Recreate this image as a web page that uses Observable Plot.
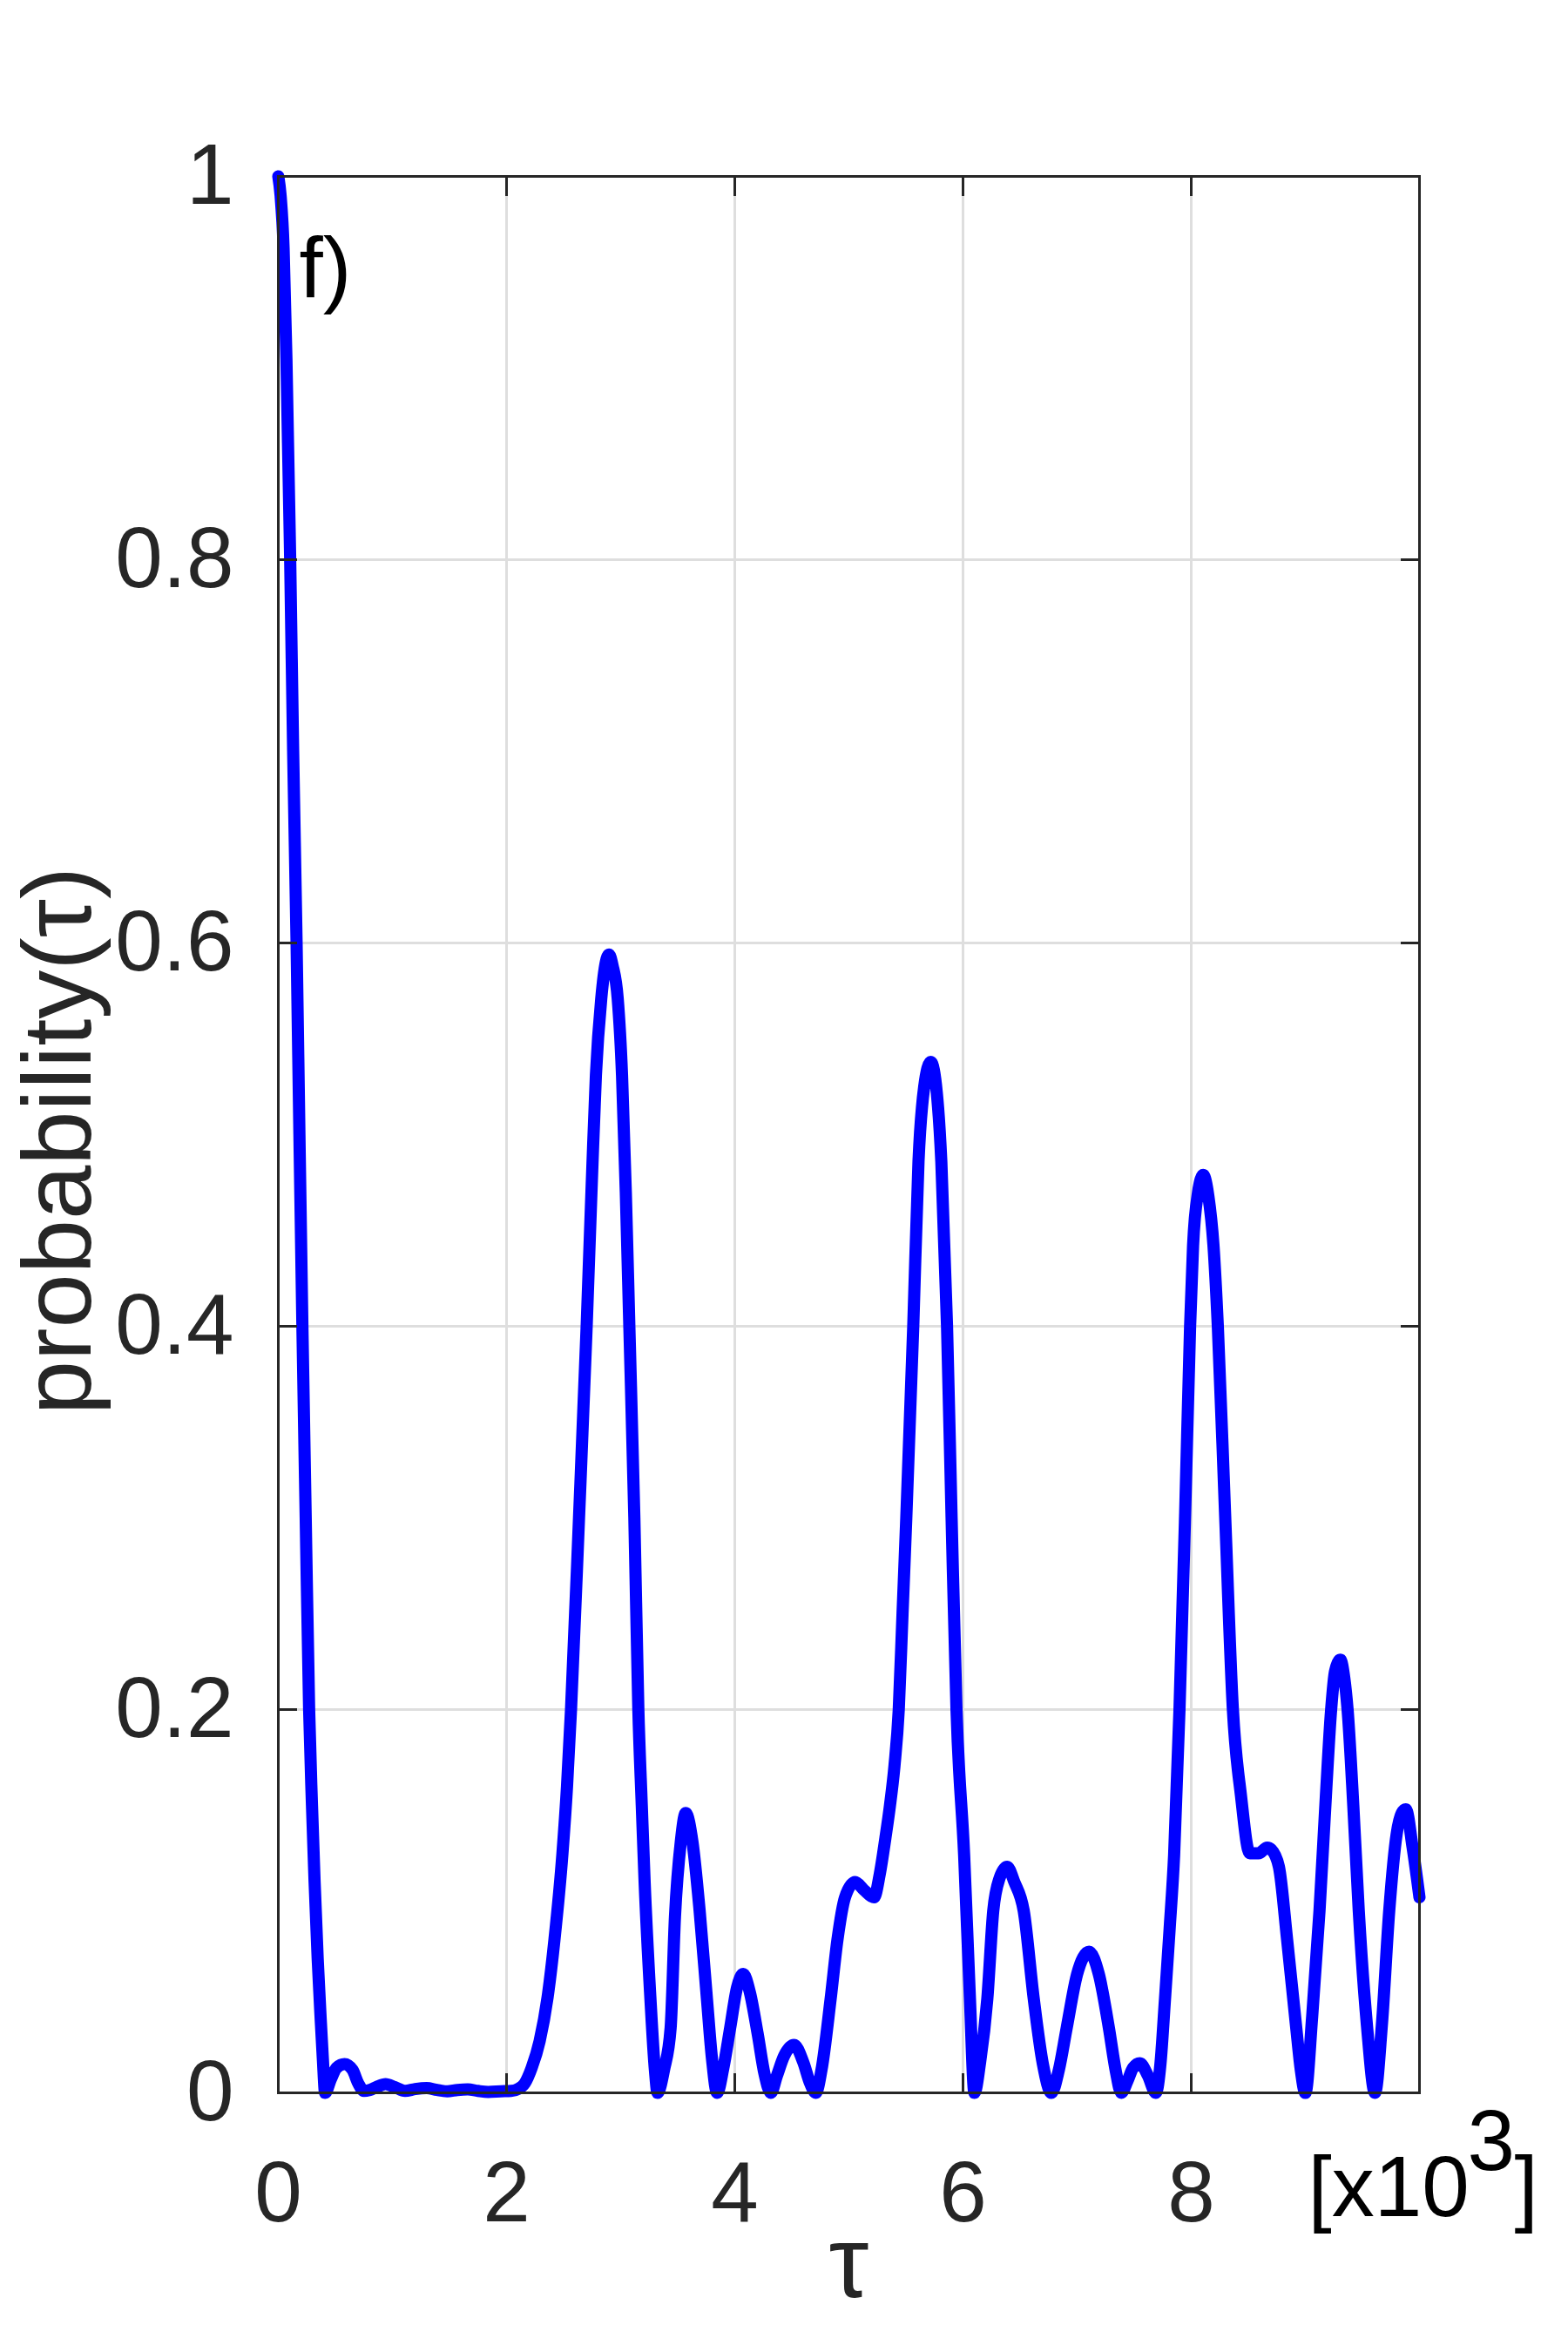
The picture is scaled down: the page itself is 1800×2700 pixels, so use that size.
<!DOCTYPE html>
<html>
<head>
<meta charset="utf-8">
<script src="https://cdn.jsdelivr.net/npm/d3@7"></script>
<script src="https://cdn.jsdelivr.net/npm/@observablehq/plot@0.6"></script>
<style>
  html, body { margin: 0; padding: 0; background: #ffffff; }
  #chart svg { display: block; }
</style>
</head>
<body>
<div id="chart"></div>
<script>
// τ values (in units of 10^3)
const tau = [
  0, 0.02, 0.046, 0.071, 0.104, 0.13, 0.16, 0.185, 0.211, 0.24, 0.27, 0.295, 0.318, 0.345, 0.37, 0.39, 0.41,
  0.46, 0.51, 0.58, 0.65, 0.70, 0.75, 0.80, 0.86, 0.94, 1.02, 1.11, 1.20, 1.30, 1.39, 1.48, 1.57, 1.66, 1.75,
  1.84, 1.95, 2.04, 2.10, 2.16, 2.22, 2.29, 2.36, 2.42, 2.49, 2.53, 2.565, 2.635, 2.702, 2.75, 2.783, 2.83,
  2.87, 2.898, 2.93, 2.974, 3.012, 3.045, 3.076, 3.12, 3.155, 3.185, 3.21, 3.26, 3.30, 3.323,
  3.38, 3.438, 3.476, 3.527, 3.57, 3.629, 3.692, 3.756, 3.80, 3.845,
  3.90, 3.96, 4.02, 4.074, 4.13, 4.20, 4.26, 4.316,
  4.37, 4.43, 4.52, 4.60, 4.66, 4.71,
  4.76, 4.84, 4.90, 4.966, 5.055, 5.13, 5.22, 5.27, 5.32, 5.36, 5.40, 5.437, 5.47, 5.503, 5.564, 5.61,
  5.66, 5.717, 5.77, 5.81, 5.86, 5.90, 5.943, 6.01, 6.06, 6.10,
  6.15, 6.213, 6.265, 6.32, 6.387, 6.45, 6.532, 6.62, 6.70, 6.775,
  6.84, 6.909, 7.00, 7.105, 7.19, 7.278, 7.34, 7.387,
  7.44, 7.49, 7.55, 7.62, 7.69,
  7.73, 7.77, 7.81, 7.85, 7.897, 7.947, 7.99, 8.016, 8.06, 8.105, 8.15, 8.195, 8.233, 8.296, 8.365,
  8.436, 8.513, 8.59, 8.666, 8.70, 8.768, 8.84, 8.92, 8.96, 9.00,
  9.06, 9.124, 9.18, 9.226, 9.26, 9.307, 9.34, 9.37, 9.42, 9.468, 9.54, 9.61,
  9.67, 9.735, 9.80, 9.845, 9.88, 9.94, 10.0
];
// probability(τ)
const prob = [
  1.0, 0.99, 0.963, 0.905, 0.80, 0.70, 0.60, 0.50, 0.40, 0.30, 0.20, 0.15, 0.11, 0.07, 0.04, 0.018, 0.0,
  0.007, 0.013, 0.015, 0.012, 0.005, 0.001, 0.0015, 0.003, 0.0045, 0.003, 0.001, 0.002, 0.0025, 0.0015, 0.0008, 0.0015, 0.0018, 0.001,
  0.0005, 0.0008, 0.001, 0.002, 0.005, 0.013, 0.027, 0.050, 0.080, 0.125, 0.16, 0.20, 0.30, 0.40, 0.48, 0.531, 0.571,
  0.590, 0.594, 0.588, 0.571, 0.531, 0.47, 0.40, 0.30, 0.20, 0.15, 0.11, 0.05, 0.012, 0.0,
  0.012, 0.034, 0.092, 0.131, 0.146, 0.131, 0.095, 0.049, 0.018, 0.0,
  0.013, 0.034, 0.055, 0.062, 0.053, 0.031, 0.010, 0.0,
  0.009, 0.019, 0.025, 0.016, 0.005, 0.0,
  0.012, 0.049, 0.080, 0.102, 0.110, 0.106, 0.102, 0.114, 0.133, 0.15, 0.171, 0.20, 0.25, 0.30, 0.40, 0.486,
  0.525, 0.538, 0.522, 0.486, 0.40, 0.30, 0.20, 0.124, 0.05, 0.0,
  0.016, 0.049, 0.095, 0.112, 0.118, 0.110, 0.095, 0.049, 0.015, 0.0,
  0.012, 0.034, 0.062, 0.0736, 0.062, 0.034, 0.011, 0.0,
  0.006, 0.013, 0.0155, 0.009, 0.0,
  0.015, 0.049, 0.085, 0.124, 0.20, 0.303, 0.40, 0.442, 0.47, 0.479, 0.468, 0.442, 0.40, 0.303, 0.20,
  0.155, 0.125, 0.125, 0.128, 0.127, 0.118, 0.080, 0.034, 0.012, 0.0,
  0.040, 0.095, 0.155, 0.20, 0.220, 0.226, 0.217, 0.20, 0.15, 0.095, 0.035, 0.0,
  0.035, 0.095, 0.135, 0.146, 0.148, 0.128, 0.102
];

const xTicks = [0, 2, 4, 6, 8];
const xTickLabels = ["0", "2", "4", "6", "8"];
const xGrid = [2, 4, 6, 8];
const yTicks = [0, 0.2, 0.4, 0.6, 0.8, 1];
const yTickLabels = ["0", "0.2", "0.4", "0.6", "0.8", "1"];
const yGrid = [0.2, 0.4, 0.6, 0.8];
const xLabel = "τ";
const yLabel = "probability(τ)";
const panelLabel = "f)";
const xMultiplier = ["[x10", "3", "]"];

const data = tau.map((t, i) => ({t, p: prob[i]}));
const font = "'Liberation Sans', Arial, Helvetica, sans-serif";
const axisColor = "#262626";

const chart = Plot.plot({
  width: 1800,
  height: 2700,
  marginLeft: 319,
  marginRight: 171,
  marginTop: 202,
  marginBottom: 298,
  x: {domain: [0, 10]},
  y: {domain: [0, 1]},
  style: {fontFamily: font, background: "#ffffff", overflow: "visible"},
  marks: [
    Plot.gridX(xGrid, {stroke: "#dedede", strokeOpacity: 1, strokeWidth: 3}),
    Plot.gridY(yGrid, {stroke: "#dedede", strokeOpacity: 1, strokeWidth: 3}),
    Plot.line(data, {x: "t", y: "p", stroke: "#0000ff", strokeWidth: 14, strokeLinejoin: "round", curve: "monotone-x"}),
    Plot.frame({stroke: axisColor, strokeWidth: 3}),
    Plot.axisX(xTicks, {anchor: "bottom", tickSize: -22, tickPadding: 100, strokeWidth: 3, color: axisColor,
      fontSize: 98, label: null, tickFormat: d => xTickLabels[xTicks.indexOf(d)]}),
    Plot.axisX(xTicks, {anchor: "top", tickSize: -22, strokeWidth: 3, stroke: axisColor, fill: "none", label: null}),
    Plot.axisY(yTicks, {anchor: "left", tickSize: -22, tickPadding: 73, strokeWidth: 3, color: axisColor,
      fontSize: 98, label: null, tickFormat: d => yTickLabels[yTicks.indexOf(d)]}),
    Plot.axisY(yTicks, {anchor: "right", tickSize: -22, strokeWidth: 3, stroke: axisColor, fill: "none", label: null}),
    Plot.text([xLabel], {frameAnchor: "bottom", textAnchor: "middle", lineAnchor: "bottom", dy: 234, fontSize: 116, fill: axisColor}),
    Plot.text([yLabel], {frameAnchor: "left", textAnchor: "middle", lineAnchor: "bottom", rotate: -90, dx: -216, dy: 7, fontSize: 112, fill: axisColor}),
    Plot.text([panelLabel], {frameAnchor: "top-left", textAnchor: "start", lineAnchor: "bottom", dx: 24, dy: 138, fontSize: 98, fill: "#000000"}),
    Plot.text([xMultiplier[0]], {frameAnchor: "bottom-right", textAnchor: "start", lineAnchor: "bottom", dx: -128, dy: 141, fontSize: 98, fill: "#000000"}),
    Plot.text([xMultiplier[1]], {frameAnchor: "bottom-right", textAnchor: "start", lineAnchor: "bottom", dx: 55, dy: 88, fontSize: 98, fill: "#000000"}),
    Plot.text([xMultiplier[2]], {frameAnchor: "bottom-right", textAnchor: "start", lineAnchor: "bottom", dx: 109, dy: 141, fontSize: 98, fill: "#000000"})
  ]
});
document.getElementById("chart").appendChild(chart);
</script>
</body>
</html>
